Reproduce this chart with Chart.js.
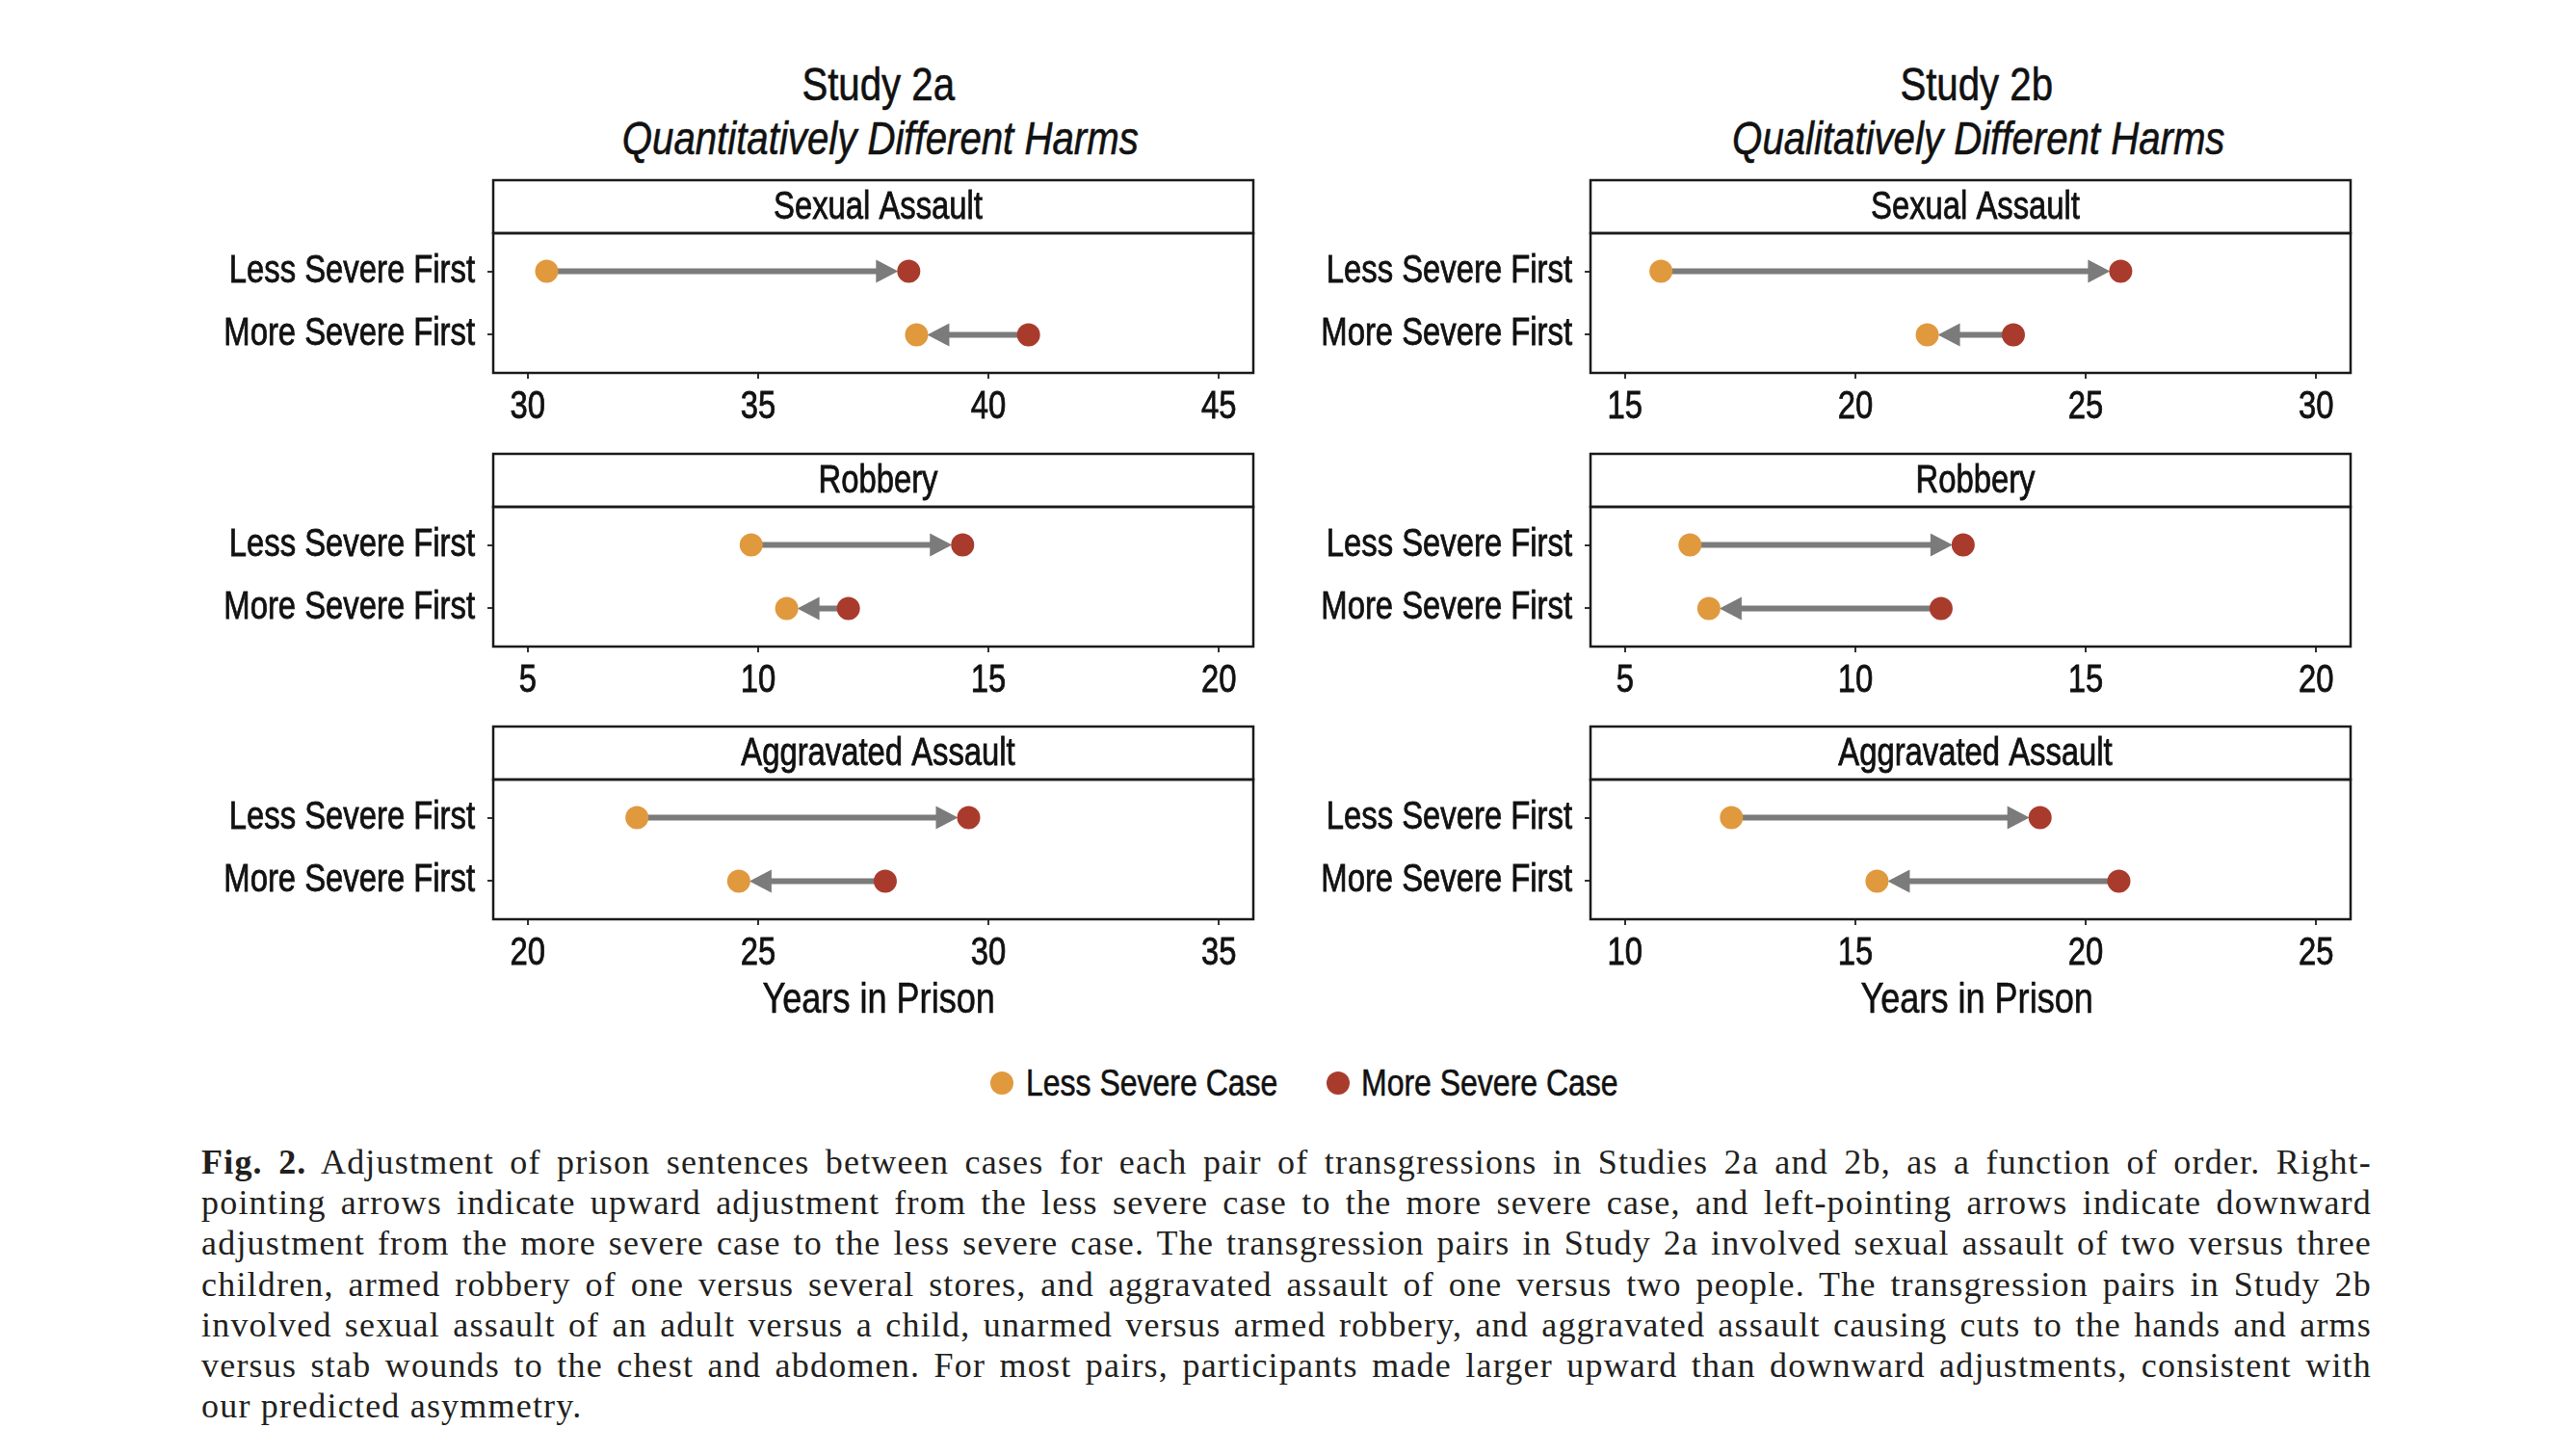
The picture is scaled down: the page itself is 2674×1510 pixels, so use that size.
<!DOCTYPE html>
<html>
<head>
<meta charset="utf-8">
<script src="https://cdn.jsdelivr.net/npm/chart.js@4.4.1/dist/chart.umd.min.js"></script>
<style>
html, body { margin: 0; padding: 0; background: #fff; }
body { width: 2674px; height: 1510px; position: relative; overflow: hidden;
       font-family: 'Liberation Sans', Arial, sans-serif; color: #111; }
canvas { position: absolute; }
.sq { display: inline-block; transform: scaleX(0.82); transform-origin: 50% 50%; -webkit-text-stroke: 0.6px #111; }
.head { position: absolute; width: 1000px; text-align: center; white-space: nowrap; }
.study { font-size: 49px; line-height: 49px; }
.sub { font-size: 49px; line-height: 49px; font-style: italic; }
.xtitle { position: absolute; width: 600px; text-align: center; font-size: 44px; line-height: 44px; white-space: nowrap; }
.legend { position: absolute; top: 1104px; height: 40px; font-size: 39px; line-height: 40px; white-space: nowrap; }
.legend .sq { transform-origin: 0 50%; }
.dot { position: absolute; width: 24px; height: 24px; border-radius: 50%; top: 1112px; }
.caption { position: absolute; left: 209px; top: 1185px; width: 2253px;
           font-family: 'Liberation Serif', 'Times New Roman', serif; font-size: 36px; line-height: 42.2px;
           letter-spacing: 1.2px; color: #231f20; }
.caption div { text-align: justify; text-align-last: justify; white-space: nowrap; }
.caption div.last { text-align-last: left; }
</style>
</head>
<body>

<div class="head study" style="left:412px;top:63px;"><span class="sq">Study 2a</span></div>
<div class="head sub" style="left:414px;top:119px;"><span class="sq">Quantitatively Different Harms</span></div>
<div class="head study" style="left:1552px;top:63px;"><span class="sq">Study 2b</span></div>
<div class="head sub" style="left:1554px;top:119px;"><span class="sq">Qualitatively Different Harms</span></div>

<canvas id="c0" width="1130" height="270" style="left:200px;top:182px;"></canvas>
<canvas id="c1" width="1130" height="270" style="left:200px;top:466px;"></canvas>
<canvas id="c2" width="1130" height="270" style="left:200px;top:749px;"></canvas>
<canvas id="c3" width="1130" height="270" style="left:1339px;top:182px;"></canvas>
<canvas id="c4" width="1130" height="270" style="left:1339px;top:466px;"></canvas>
<canvas id="c5" width="1130" height="270" style="left:1339px;top:749px;"></canvas>

<div class="xtitle" style="left:612px;top:1014px;"><span class="sq">Years in Prison</span></div>
<div class="xtitle" style="left:1752px;top:1014px;"><span class="sq">Years in Prison</span></div>

<span class="dot" style="left:1028px;background:#e0993d;"></span>
<span class="legend" style="left:1065px;"><span class="sq">Less Severe Case</span></span>
<span class="dot" style="left:1377px;background:#a93b2d;"></span>
<span class="legend" style="left:1413px;"><span class="sq">More Severe Case</span></span>

<div class="caption">
<div><b>Fig. 2.</b> Adjustment of prison sentences between cases for each pair of transgressions in Studies 2a and 2b, as a function of order. Right-</div>
<div>pointing arrows indicate upward adjustment from the less severe case to the more severe case, and left-pointing arrows indicate downward</div>
<div>adjustment from the more severe case to the less severe case. The transgression pairs in Study 2a involved sexual assault of two versus three</div>
<div>children, armed robbery of one versus several stores, and aggravated assault of one versus two people. The transgression pairs in Study 2b</div>
<div>involved sexual assault of an adult versus a child, unarmed versus armed robbery, and aggravated assault causing cuts to the hands and arms</div>
<div>versus stab wounds to the chest and abdomen. For most pairs, participants made larger upward than downward adjustments, consistent with</div>
<div class="last">our predicted asymmetry.</div>
</div>

<script>
// ===== Data (years in prison) =====
const crimes = ['Sexual Assault', 'Robbery', 'Aggravated Assault'];
const orders = ['Less Severe First', 'More Severe First'];

// per crime: [Less Severe First, More Severe First]
const lessSevere2a = [[30.41, 38.44], [9.85, 10.62], [22.37, 24.58]];
const moreSevere2a = [[38.27, 40.87], [14.44, 11.96], [29.57, 27.76]];
const lessSevere2b = [[15.78, 21.56], [6.41, 6.82], [12.31, 15.47]];
const moreSevere2b = [[25.76, 23.43], [12.34, 11.86], [19.01, 20.72]];

// tick labels
const xTicks2a = [[30, 35, 40, 45], [5, 10, 15, 20], [20, 25, 30, 35]];
const xTicks2b = [[15, 20, 25, 30], [5, 10, 15, 20], [10, 15, 20, 25]];

// ===== Style =====
const FONT = "'Liberation Sans', Arial, sans-serif";
const SQUEEZE = 0.82;          // narrow look, no condensed font installed
const ORANGE = '#e0993d';
const RED = '#a93b2d';
const ARROW = '#7b7b7b';
const STRIP_H = 55;
const INK = '#111';

// draw every text of a canvas horizontally squeezed around its anchor
function narrowContext(canvas) {
    const ctx = canvas.getContext('2d');
    ['fillText', 'strokeText'].forEach(fn => {
        const draw = ctx[fn].bind(ctx);
        ctx[fn] = function (text, x, y, maxWidth) {
            this.save();
            this.translate(x, y);
            this.scale(SQUEEZE, 1);
            if (maxWidth === undefined) draw(text, 0, 0);
            else draw(text, 0, 0, maxWidth / SQUEEZE);
            this.restore();
        };
    });
    return ctx;
}

// Strip header + panel box
const panelFrame = {
    id: 'panelFrame',
    afterDraw(chart, args, opts) {
        const { ctx, chartArea: a } = chart;
        ctx.save();
        ctx.lineWidth = 2.5;
        ctx.strokeStyle = '#1a1a1a';
        ctx.strokeRect(a.left, a.top - STRIP_H, a.right - a.left, STRIP_H);
        ctx.strokeRect(a.left, a.top, a.right - a.left, a.bottom - a.top);
        ctx.fillStyle = INK;
        ctx.strokeStyle = INK;
        ctx.lineWidth = 0.8;
        ctx.font = '40px ' + FONT;
        ctx.textAlign = 'center';
        ctx.textBaseline = 'middle';
        const cx = (a.left + a.right) / 2 + 5, cy = a.top - STRIP_H / 2 + 1;
        ctx.fillText(opts.label, cx, cy);
        ctx.strokeText(opts.label, cx, cy);
        ctx.restore();
    }
};

// Arrows from first case to second case
const adjustArrows = {
    id: 'adjustArrows',
    beforeDatasetsDraw(chart) {
        const { ctx } = chart;
        const xs = chart.scales.x, ys = chart.scales.y;
        const less = chart.data.datasets[0].data;
        const more = chart.data.datasets[1].data;
        ctx.save();
        ctx.strokeStyle = ARROW;
        ctx.fillStyle = ARROW;
        ctx.lineWidth = 6;
        for (let i = 0; i < 2; i++) {
            const from = i === 0 ? less[i] : more[i];
            const to = i === 0 ? more[i] : less[i];
            const x0 = xs.getPixelForValue(from.x);
            const x1 = xs.getPixelForValue(to.x);
            const py = ys.getPixelForValue(from.y);
            const dir = Math.sign(x1 - x0);
            const tip = x1 - dir * 11;
            const base = tip - dir * 23;
            ctx.beginPath();
            ctx.moveTo(x0, py);
            ctx.lineTo(base + dir * 2, py);
            ctx.stroke();
            ctx.beginPath();
            ctx.moveTo(tip, py);
            ctx.lineTo(base, py - 12);
            ctx.lineTo(base, py + 12);
            ctx.closePath();
            ctx.fill();
        }
        ctx.restore();
    }
};

function makePanel(id, crime, less, more, ticks) {
    const span = ticks[ticks.length - 1] - ticks[0];
    const pts = arr => arr.map((v, i) => ({ x: v, y: i + 1 }));
    const tickFont = { family: FONT, size: 40 };
    return new Chart(narrowContext(document.getElementById(id)), {
        type: 'scatter',
        data: {
            datasets: [
                { label: 'Less Severe Case', data: pts(less), backgroundColor: ORANGE,
                  pointRadius: 12, pointHoverRadius: 12, borderWidth: 0 },
                { label: 'More Severe Case', data: pts(more), backgroundColor: RED,
                  pointRadius: 12, pointHoverRadius: 12, borderWidth: 0 }
            ]
        },
        options: {
            responsive: false,
            animation: false,
            devicePixelRatio: 1,
            events: [],
            layout: { padding: { top: STRIP_H + 5, right: 29, left: 0, bottom: 0 }, autoPadding: false },
            plugins: {
                legend: { display: false },
                tooltip: { enabled: false },
                panelFrame: { label: crime }
            },
            scales: {
                x: {
                    type: 'linear',
                    min: ticks[0] - 0.05 * span,
                    max: ticks[ticks.length - 1] + 0.05 * span,
                    afterBuildTicks: s => { s.ticks = ticks.map(v => ({ value: v })); },
                    afterFit: s => { s.height = 65; },
                    border: { display: false },
                    grid: { drawOnChartArea: false, drawTicks: true, tickLength: 6, color: '#333', lineWidth: 2 },
                    ticks: { font: tickFont, color: INK, padding: 6, maxRotation: 0, autoSkip: false,
                             textStrokeColor: INK, textStrokeWidth: 0.8 }
                },
                y: {
                    type: 'linear',
                    reverse: true,
                    min: 0.4,
                    max: 2.6,
                    afterBuildTicks: s => { s.ticks = [{ value: 1 }, { value: 2 }]; },
                    afterFit: s => { s.width = 312; },
                    border: { display: false },
                    grid: { drawOnChartArea: false, drawTicks: true, tickLength: 6, color: '#333', lineWidth: 2 },
                    ticks: { font: tickFont, color: INK, padding: 13,
                             textStrokeColor: INK, textStrokeWidth: 0.8,
                             callback: v => orders[v - 1] }
                }
            }
        },
        plugins: [adjustArrows, panelFrame]
    });
}

crimes.forEach((c, k) => {
    makePanel('c' + k, c, lessSevere2a[k], moreSevere2a[k], xTicks2a[k]);
    makePanel('c' + (k + 3), c, lessSevere2b[k], moreSevere2b[k], xTicks2b[k]);
});
</script>
</body>
</html>
